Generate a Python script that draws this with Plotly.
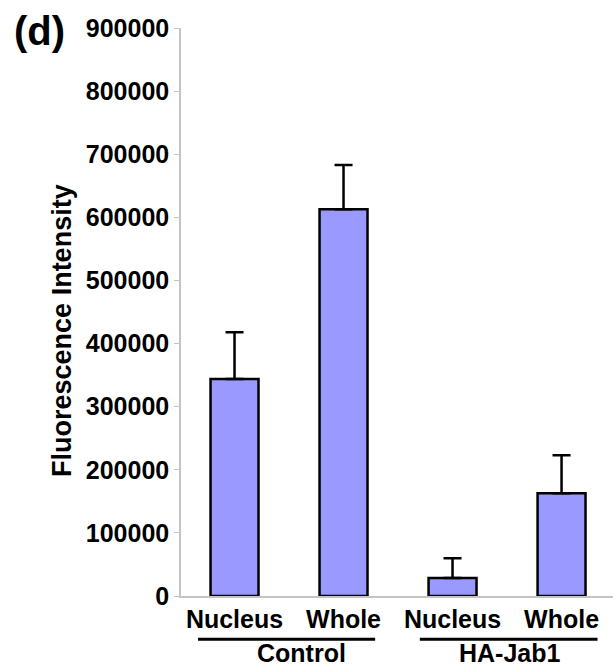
import plotly.graph_objects as go

# ---- data ----
bar_labels = ["Nucleus", "Whole", "Nucleus", "Whole"]
groups = ["Control", "HA-Jab1"]
values = [344000, 613000, 28500, 163000]
errors = [74000, 70000, 31500, 60000]
y_ticks = [0, 100000, 200000, 300000, 400000, 500000, 600000, 700000, 800000, 900000]

FONT = "Liberation Sans, Arial, sans-serif"
positions = list(range(len(bar_labels)))

fig = go.Figure()
fig.add_trace(go.Bar(
    x=positions, y=values, width=0.44,
    marker=dict(color="#9999FF", line=dict(color="black", width=2.5)),
    error_y=dict(type="data", array=errors, arrayminus=[0] * len(errors),
                 symmetric=False, color="black", thickness=2.5, width=9),
    showlegend=False,
))

# group underlines and labels
group_spans = [(-0.335, 1.29), (1.70, 3.33)]
group_centers = [0.61, 2.53]
for (x0, x1), name, xc in zip(group_spans, groups, group_centers):
    fig.add_shape(type="line", xref="x", yref="paper", x0=x0, x1=x1,
                  y0=-0.076, y1=-0.076, line=dict(color="black", width=3))
    fig.add_annotation(xref="x", yref="paper", x=xc, y=-0.101, text=name,
                       showarrow=False, xanchor="center", yanchor="middle",
                       font=dict(family=FONT, size=25, color="black", weight="bold"))

fig.add_annotation(xref="paper", yref="paper", x=-0.276, y=0.468,
                   text="Fluorescence Intensity", textangle=-90, showarrow=False,
                   xanchor="center", yanchor="middle",
                   font=dict(family=FONT, size=27, color="black", weight="bold"))

fig.add_annotation(xref="paper", yref="paper", x=-0.328, y=0.995, text="(d)",
                   showarrow=False, xanchor="center", yanchor="middle",
                   font=dict(family=FONT, size=40, color="black", weight="bold"))

fig.update_layout(
    width=613, height=671,
    margin=dict(l=181, r=0, t=28, b=75),
    plot_bgcolor="white", paper_bgcolor="white",
    xaxis=dict(range=[-0.491, 3.472], tickvals=positions, ticktext=bar_labels,
               showline=True, linecolor="#c4c4c4", linewidth=1.5, ticks="",
               showgrid=False, zeroline=False,
               tickfont=dict(family=FONT, size=25, color="black", weight="bold")),
    yaxis=dict(range=[0, 900000], tickvals=y_ticks, ticktext=[str(v) for v in y_ticks],
               showline=True, linecolor="#c4c4c4", linewidth=1.5, ticks="outside",
               ticklen=5, tickcolor="#c4c4c4", showgrid=False, zeroline=False,
               tickfont=dict(family=FONT, size=25, color="black", weight="bold")),
)

fig.write_html("out.html")
